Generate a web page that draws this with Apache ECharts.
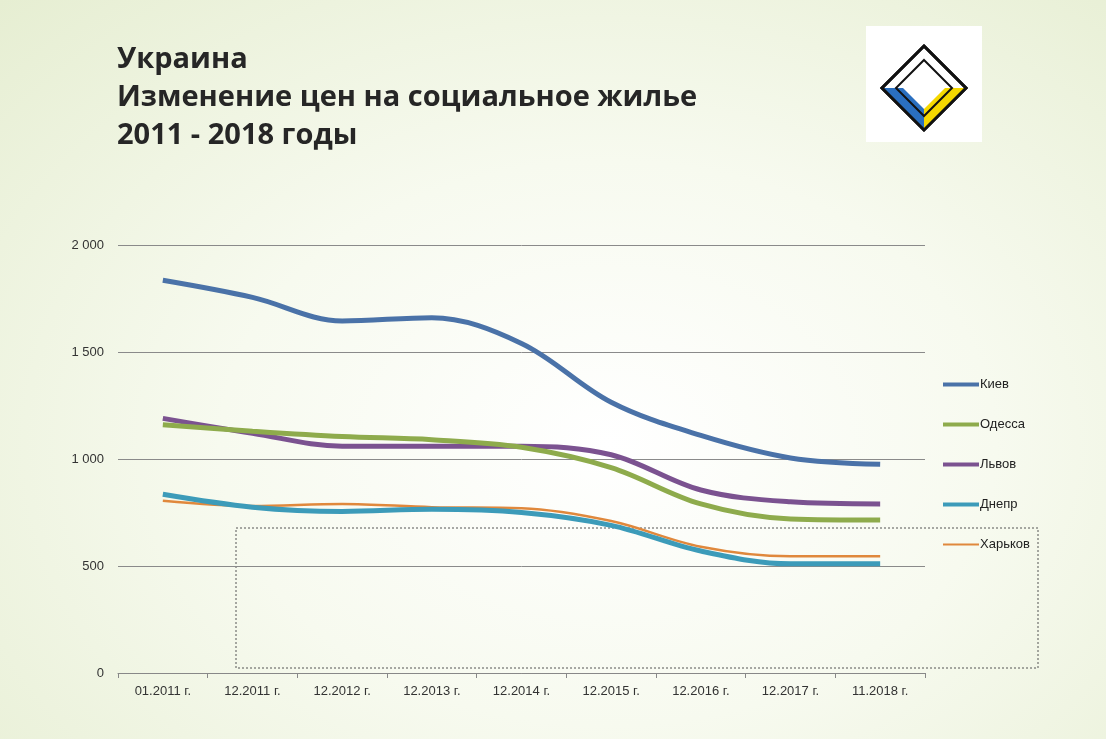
<!DOCTYPE html>
<html><head><meta charset="utf-8">
<script src="https://cdn.jsdelivr.net/npm/echarts@6/dist/echarts.min.js"></script>
<style>html,body{margin:0;padding:0;}#c{width:1106px;height:739px;background:radial-gradient(ellipse at 55% 60%, #ffffff 0%, #f7faef 45%, #e6eed2 100%);}</style>
</head><body><div id="c"></div>
<script>
const categories=['01.2011 г.','12.2011 г.','12.2012 г.','12.2013 г.','12.2014 г.','12.2015 г.','12.2016 г.','12.2017 г.','11.2018 г.'];
const kiev=[1835,1755,1645,1660,1540,1265,1110,1005,975];
const odessa=[1160,1130,1105,1090,1055,960,790,720,715];
const lviv=[1190,1120,1060,1060,1060,1020,855,800,790];
const dnepr=[835,775,755,765,750,690,570,510,510];
const kharkov=[805,780,790,775,770,710,590,545,545];
const names=['Киев','Одесса','Львов','Днепр','Харьков'];
const colors=['#4a72a8','#8eab4c','#7b5290','#3c9bb9','#e0883c'];
const widths=[5,5,5,5,2.5];
const data=[kiev,odessa,lviv,dnepr,kharkov];
const chart=echarts.init(document.getElementById('c'));
chart.setOption({
 animation:false,
 title:{text:'Украина\nИзменение цен на социальное жилье\n2011 - 2018 годы',left:112,top:36,textStyle:{fontFamily:'Open Sans',fontWeight:'bold',fontSize:29,lineHeight:38,color:'#262626'}},
 grid:{left:118,right:181,top:245,bottom:66},
 legend:{orient:'vertical',left:938,top:373,itemGap:27,itemWidth:36,itemHeight:14,icon:'rect',
  data:names.map((n,i)=>({name:n,icon:'path://M0,0H36V'+(widths[i]>3?4:2)+'H0Z'})),
  textStyle:{fontFamily:'Liberation Sans',fontSize:13,color:'#222',padding:[0,0,0,-4]}},
 xAxis:{type:'category',data:categories,boundaryGap:true,axisTick:{show:true,alignWithLabel:false,length:5,lineStyle:{color:'#888'}},axisLine:{lineStyle:{color:'#888'}},axisLabel:{fontFamily:'Liberation Sans',fontSize:13,color:'#333',margin:12}},
 yAxis:{type:'value',min:0,max:2000,interval:500,axisLabel:{fontFamily:'Liberation Sans',fontSize:13,color:'#333',margin:14,formatter:v=>v>=1000?String(v).replace(/(\d)(\d{3})$/,'$1 $2'):v},splitLine:{lineStyle:{color:'#8a8a8a'}}},
 series:data.map((d,i)=>({name:names[i],type:'line',data:d,smooth:0.35,symbol:'none',lineStyle:{color:colors[i],width:widths[i]},itemStyle:{color:colors[i]},z:10-i})),
 graphic:[
  {type:'rect',shape:{x:236,y:528,width:802,height:140},style:{fill:'none',stroke:'#555',lineWidth:1,lineDash:[2,2]}},
  {type:'rect',shape:{x:866,y:26,width:116,height:116},style:{fill:'#fff'}},
  {type:'polygon',shape:{points:[[924,46],[966,88],[924,130],[882,88]]},style:{fill:'#fff',stroke:'#111',lineWidth:3}},
  {type:'polygon',shape:{points:[[882,88],[903,88],[924,109],[924,130]]},style:{fill:'#2a6fc0'}},
  {type:'polygon',shape:{points:[[966,88],[945,88],[924,109],[924,130]]},style:{fill:'#f5d800'}},
  {type:'polygon',shape:{points:[[924,60],[952,88],[924,116],[896,88]]},style:{fill:'none',stroke:'#111',lineWidth:2}},
  {type:'polygon',shape:{points:[[924,46],[966,88],[924,130],[882,88]]},style:{fill:'none',stroke:'#111',lineWidth:3}}
 ]
});
</script></body></html>
